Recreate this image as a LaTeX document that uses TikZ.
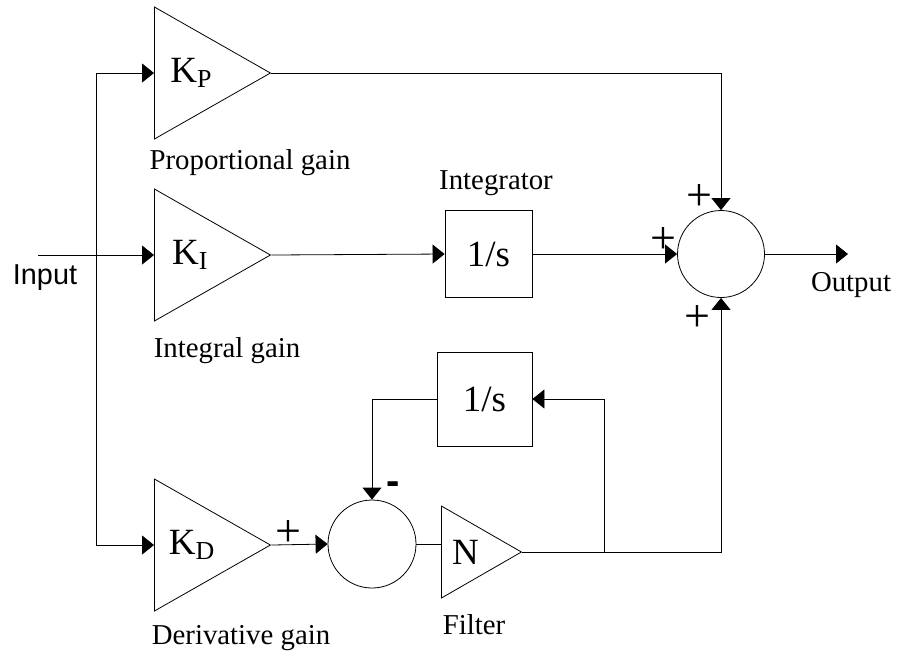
\documentclass[tikz,border=0pt]{standalone}
\usepackage{fontspec}
\setmainfont{Liberation Serif}
\setsansfont{Liberation Sans}
\usepackage{tikz}
\usetikzlibrary{shapes.geometric,arrows.meta,positioning}

\begin{document}
\begin{tikzpicture}[
    x=0.5pt, y=-0.5pt,
    gain/.style={draw, isosceles triangle, isosceles triangle stretches, shape border rotate=0, inner sep=0pt, anchor=lower side, minimum height=58pt, minimum width=66pt, font=\fontsize{18.5}{20}\selectfont},
    block/.style={draw, rectangle, inner sep=0pt, font=\fontsize{18.5}{20}\selectfont},
    sumj/.style={draw, circle, inner sep=0pt, minimum size=43.5pt},
    sig/.style={-{Triangle[length=6pt, width=9.5pt]}},
    lbl/.style={inner sep=0pt, font=\fontsize{14.4}{17}\selectfont},
    sgn/.style={inner sep=0pt, font=\fontsize{23}{24}\selectfont}
]
\useasboundingbox (0,0) rectangle (897,655);

% gains
\node[gain] (kp) at (154,73) {K\textsubscript{P}};
\node[gain] (ki) at (154,255) {K\textsubscript{I}};
\node[gain] (kd) at (154,545) {K\textsubscript{D}};

\node[lbl] (kplbl) at (250,163) {Proportional gain};
\node[lbl] (kilbl) at (227,351) {Integral gain};
\node[lbl] (kdlbl) at (241,638) {Derivative gain};

% integrator and summing point
\node[block, minimum width=43.5pt, minimum height=43.5pt] (int) at (488.5,254) {1/s};
\node[lbl] (intlbl) at (496,183) {Integrator};
\node[sumj] (sum) at (721,254) {};

% derivative filter
\node[sumj, minimum size=44pt] (sum2) at (372,544) {};
\node[gain, minimum height=40pt, minimum width=46pt] (filt) at (441,552) {N};
\node[lbl] (filtlbl) at (474,625) {Filter};
\node[block, minimum width=47.5pt, minimum height=47pt] (fb) at (484.5,399) {1/s};

\coordinate (in) at (38,255);
\coordinate (split) at (96,255);
\coordinate (br) at (604,552);
\coordinate (out) at (848,254);

\node[lbl, font=\fontsize{14.4}{17}\selectfont\sffamily] (inlbl) at (45,278) {Input};
\node[lbl] (outlbl) at (851,285) {Output};

\draw[sig] (in) -- (ki.lower side);
\draw[sig] (split) |- (kp.lower side);
\draw[sig] (split) |- (kd.lower side);

\draw[sig] (kp.apex) -| (sum.north);
\draw[sig] (ki.apex) -- (int.west);
\draw[sig] (int.east) -- (sum.west);
\draw[sig] (sum.east) -- (out);

\draw[sig] (kd.apex) -- (sum2.west);
\draw (sum2.east) -- (sum2.east -| filt.lower side);
\draw[sig] (filt.apex) -| (sum.south);
\draw[sig] (br) |- (fb.east);
\draw[sig] (fb.west) -| (sum2.north);

% signs
\node[sgn] (p1) at (699,197) {+};
\node[sgn] (p2) at (663,240) {+};
\node[sgn] (p3) at (697,318) {+};
\node[sgn] (p4) at (288,533) {+};
\node[sgn, font=\fontsize{20}{22}\selectfont\sffamily\bfseries] (m1) at (393,488) {-};

\end{tikzpicture}
\end{document}
